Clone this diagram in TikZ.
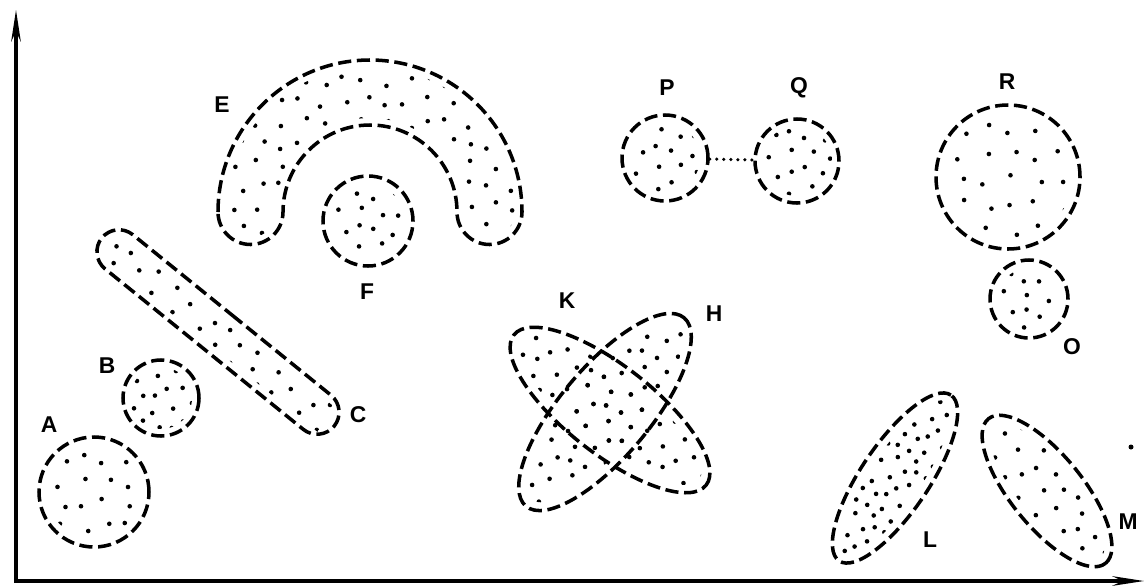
\documentclass[tikz,border=0pt]{standalone}
\usepackage{fontspec}
\setmainfont{Liberation Sans}
\usetikzlibrary{arrows.meta,shapes.geometric,shapes.misc}

\newdimen\pxu \pxu=0.02cm

% dots on a jittered grid: xmin, xmax, ymin, ymax, step
\newcommand\stipple[5]{%
  \pgfmathsetmacro\stipnx{#1+#5}%
  \pgfmathsetmacro\stipny{#3+#5}%
  \foreach \sx in {#1,\stipnx,...,#2}
    \foreach \sy in {#3,\stipny,...,#4}
      \fill ({\sx+5*sin(3.7*\sx+9.1*\sy)},{\sy+5*cos(5.3*\sx-2.9*\sy)}) circle (2.3);%
}
% horseshoe round (370,212): outer radius, inner radius, end radius
\newcommand\horseshoe[3]{(370-#1,212)
  arc[start angle=180, end angle=360, radius=#1]
  arc[start angle=0, end angle=180, radius=#3]
  arc[start angle=0, end angle=-180, radius=#2]
  arc[start angle=0, end angle=180, radius=#3] -- cycle}

\begin{document}
\begin{tikzpicture}[
  x=1\pxu, y=-1\pxu,
  >={Stealth[length=18pt, width=5.5pt]},
  blob/.style={draw, line width=2pt, dash pattern=on 7.5pt off 3.2pt, inner sep=0pt},
  disc/.style={blob, circle},
  oval/.style={blob, ellipse},
  lab/.style={font=\fontsize{13}{15}\selectfont\bfseries, inner sep=0pt},
  axis/.style={<->, line width=1.8pt},
  link/.style={line width=2pt, dash pattern=on 0pt off 4pt, line cap=round}
]
\useasboundingbox (0,0) rectangle (1145,585);

% ---------- axes ----------
\coordinate (o)    at (16,581);
\coordinate (ytip) at (16,10);
\coordinate (xtip) at (1144,581);
\draw[axis] (ytip) -- (o) -- (xtip);

% ---------- sets ----------
\node[disc, minimum size=110\pxu] (A) at (94,492) {};
\node[disc, minimum size=76\pxu]  (B) at (161,398) {};
\node[blob, rounded rectangle, minimum width=299\pxu, minimum height=44\pxu,
      rotate=-39] (C) at (218,332) {};
\draw[blob] \horseshoe{152}{87}{32.5};
\node[disc, minimum size=90\pxu]  (F) at (368,221) {};
\node[disc, minimum size=86\pxu]  (P) at (665,158) {};
\node[disc, minimum size=84\pxu]  (Q) at (797,161) {};
\node[disc, minimum size=144\pxu] (R) at (1008,177) {};
\node[disc, minimum size=78\pxu]  (O) at (1029,299) {};
\node[oval, minimum width=244\pxu, minimum height=88\pxu, rotate=-38] (K) at (610,410) {};
\node[oval, minimum width=246\pxu, minimum height=90\pxu, rotate=50]  (H) at (605,412) {};
\node[oval, minimum width=200\pxu, minimum height=68\pxu, rotate=56]  (L) at (895,478) {};
\node[oval, minimum width=186\pxu, minimum height=72\pxu, rotate=-51] (M) at (1047,491) {};

\draw[link] (P) -- (Q);
\fill (1131,447) circle (2.5);

% ---------- dots ----------
\begin{scope}\clip (A.center) circle (47); \stipple{40}{150}{438}{548}{22}\end{scope}
\begin{scope}\clip (B.center) circle (31); \stipple{123}{200}{360}{436}{16}\end{scope}
\begin{scope}\clip[shift={(C.center)}, rotate=-39] (-140,-15) rectangle (140,15);
  \stipple{95}{340}{228}{436}{20}\end{scope}
\begin{scope}\clip \horseshoe{145}{94}{25.5}; \stipple{218}{522}{60}{245}{21}\end{scope}
\begin{scope}\clip (F.center) circle (37); \stipple{324}{413}{176}{266}{18}\end{scope}
\begin{scope}\clip (P.center) circle (35); \stipple{622}{708}{115}{202}{18}\end{scope}
\begin{scope}\clip (Q.center) circle (35); \stipple{755}{840}{118}{204}{18}\end{scope}
\begin{scope}\clip (R.center) circle (64); \stipple{937}{1080}{105}{250}{25}\end{scope}
\begin{scope}\clip (O.center) circle (31); \stipple{990}{1068}{260}{338}{18}\end{scope}
\begin{scope}\clip[shift={(K.center)}, rotate=-38] (0,0) ellipse (113 and 35);
  \stipple{500}{720}{300}{520}{18}\end{scope}
\begin{scope}\clip[shift={(H.center)}, rotate=50] (0,0) ellipse (114 and 36);
  \stipple{500}{720}{300}{520}{18}\end{scope}
\begin{scope}\clip[shift={(L.center)}, rotate=56] (0,0) ellipse (92 and 26);
  \stipple{830}{960}{392}{565}{14}\end{scope}
\begin{scope}\clip[shift={(M.center)}, rotate=-51] (0,0) ellipse (85 and 28);
  \stipple{980}{1115}{413}{570}{20}\end{scope}

% ---------- labels ----------
\node[lab] (lA) at (49,425)   {A};
\node[lab] (lB) at (107,366)  {B};
\node[lab] (lC) at (358,415)  {C};
\node[lab] (lE) at (222,105)  {E};
\node[lab] (lF) at (367,292)  {F};
\node[lab] (lP) at (667,88)   {P};
\node[lab] (lQ) at (799,88)   {Q};
\node[lab] (lR) at (1007,82)  {R};
\node[lab] (lO) at (1072,347) {O};
\node[lab] (lK) at (567,301)  {K};
\node[lab] (lH) at (714,314)  {H};
\node[lab] (lL) at (930,540)  {L};
\node[lab] (lM) at (1128,522) {M};
\end{tikzpicture}
\end{document}
